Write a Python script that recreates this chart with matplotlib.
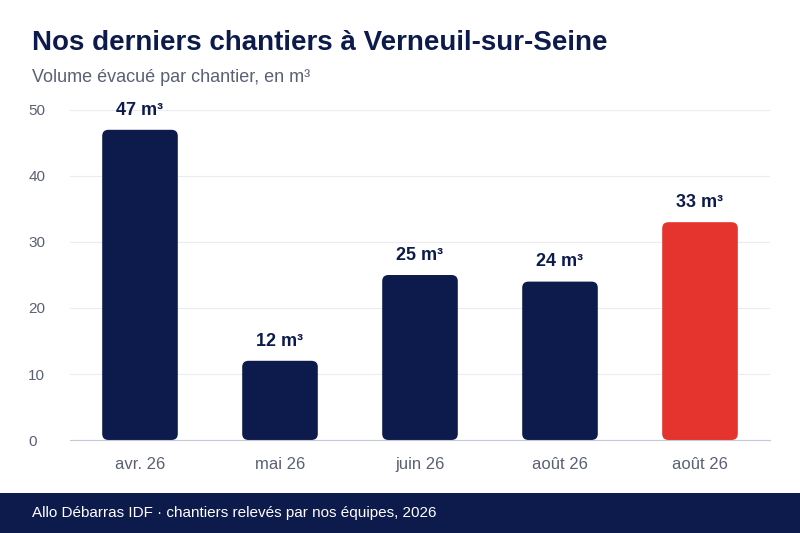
import matplotlib
matplotlib.use("Agg")
import matplotlib.pyplot as plt
from matplotlib.patches import FancyBboxPatch, Rectangle

plt.rcParams['font.family'] = ['Liberation Sans', 'DejaVu Sans']

# Data
months = ["avr. 26", "mai 26", "juin 26", "août 26", "août 26"]
volumes = [47, 12, 25, 24, 33]
highlight = [False, False, False, False, True]

navy = "#0d1b4c"
red = "#e5332e"

fig = plt.figure(figsize=(8, 5.33), dpi=100)
ax = fig.add_axes([0.0875, 1 - 440 / 533, 0.875, 330 / 533])

bar_w = 0.54
for i, (v, hl) in enumerate(zip(volumes, highlight)):
    c = red if hl else navy
    p = FancyBboxPatch((i - bar_w / 2, 0), bar_w, v,
                       boxstyle="round,pad=0,rounding_size=0.045",
                       mutation_aspect=21, fc=c, ec="none", zorder=3)
    ax.add_patch(p)
    ax.text(i, v + 1.7, f"{v} m³", ha="center", va="bottom",
            fontsize=13, fontweight="bold", color=navy, zorder=4)

ax.set_xlim(-0.5, 4.5)
ax.set_ylim(0, 50)
ax.set_xticks(range(len(months)))
ax.set_xticklabels(months)
ax.set_yticks([0, 10, 20, 30, 40, 50])
ax.tick_params(axis="x", length=0, pad=12, labelsize=12, labelcolor="#5a6075")
ax.tick_params(axis="y", length=0, pad=30, labelsize=11, labelcolor="#5a6075")
for lbl in ax.get_yticklabels():
    lbl.set_horizontalalignment("left")
ax.grid(axis="y", color="#ececf0", linewidth=0.8, zorder=0)
for s in ["top", "right", "left"]:
    ax.spines[s].set_visible(False)
ax.spines["bottom"].set_color("#c5c8d6")
ax.spines["bottom"].set_zorder(5)

fig.text(32 / 800, 1 - 43 / 533, "Nos derniers chantiers à Verneuil-sur-Seine",
         fontsize=20, fontweight="bold", color=navy, va="center")
fig.text(32 / 800, 1 - 77 / 533, "Volume évacué par chantier, en m³",
         fontsize=13, color="#5a6075", va="center")

fig.add_artist(Rectangle((0, 0), 1, 40 / 533, transform=fig.transFigure,
                         fc=navy, ec="none"))
fig.text(32 / 800, 20 / 533, "Allo Débarras IDF · chantiers relevés par nos équipes, 2026",
         fontsize=11, color="white", va="center")

fig.savefig("out.png", dpi=100)
